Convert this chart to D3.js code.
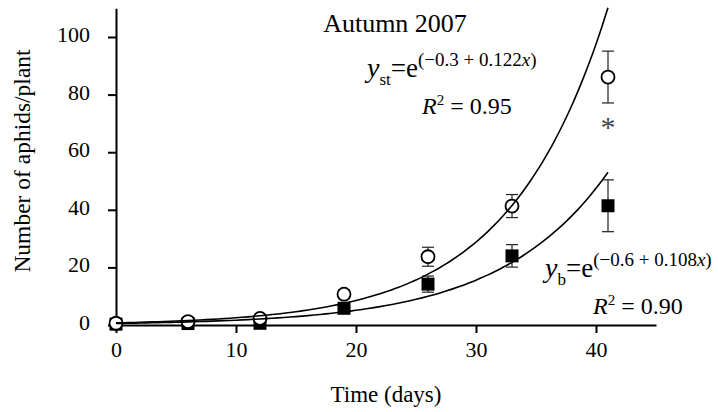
<!DOCTYPE html>
<html>
<head>
<meta charset="utf-8">
<script src="https://cdn.jsdelivr.net/npm/d3@7"></script>
<style>
  body { margin: 0; background: #fff; }
  svg { display: block; }
</style>
</head>
<body>
<svg id="chart" width="719" height="412"></svg>
<script>
// sampling days and means (aphids/plant)
const days = [0, 6, 12, 19, 26, 33, 41]
const stMean = [0.6, 1.2, 2.3, 10.7, 23.7, 41.3, 86.1]
const stErr = [0.2, 0.4, 0.6, 1.5, 3.3, 4.0, 9.0]
const bMean = [0.3, 0.5, 0.6, 5.8, 14.2, 24.0, 41.4]
const bErr = [0.1, 0.2, 0.3, 1.2, 2.8, 3.9, 9.0]

// exponential fits: [intercept, slope] as drawn
const fitSt = [-0.3, 0.122]
const fitB = [-0.6, 0.1115]

const xTicks = [0, 10, 20, 30, 40]
const yTicks = [0, 20, 40, 60, 80, 100]

const serif = '"Liberation Serif", "Times New Roman", Tinos, "DejaVu Serif", serif'

const svg = d3.select('#chart').attr('font-family', serif)

const x = d3.scaleLinear().domain([0, 45]).range([116, 656])
const y = d3.scaleLinear().domain([0, 110]).range([325, 8.2])

// axes
const yAxis = svg.append('g')
  .attr('transform', `translate(${x(0)},0)`)
  .call(d3.axisLeft(y).tickValues(yTicks).tickSize(8).tickSizeOuter(0).tickPadding(18))
yAxis.attr('font-family', serif).attr('font-size', 22)
yAxis.selectAll('text').attr('dy', '0.2em').attr('fill', '#000')

const xAxis = svg.append('g')
  .attr('transform', `translate(0,${y(0)})`)
  .call(d3.axisBottom(x).tickValues(xTicks).tickSize(8).tickSizeOuter(0).tickPadding(8))
xAxis.attr('font-family', serif).attr('font-size', 22)
xAxis.selectAll('text').attr('fill', '#000')

svg.selectAll('.domain, .tick line').attr('stroke', '#000').attr('stroke-width', 2)

svg.append('text')
  .attr('x', 386).attr('y', 402)
  .attr('text-anchor', 'middle')
  .attr('font-size', 23)
  .text('Time (days)')

svg.append('text')
  .attr('transform', 'translate(30,161) rotate(-90)')
  .attr('text-anchor', 'middle')
  .attr('font-size', 23.5)
  .text('Number of aphids/plant')

svg.append('text')
  .attr('x', 395).attr('y', 32)
  .attr('text-anchor', 'middle')
  .attr('font-size', 26)
  .text('Autumn 2007')

// error bars
const series = [
  { mean: stMean, err: stErr },
  { mean: bMean, err: bErr }
]
const bars = svg.append('g').attr('stroke', '#222').attr('stroke-width', 1.2)
for (const s of series) {
  days.forEach((d, i) => {
    const lo = y(s.mean[i] - s.err[i]), hi = y(s.mean[i] + s.err[i])
    bars.append('line').attr('x1', x(d)).attr('x2', x(d)).attr('y1', lo).attr('y2', hi)
    bars.append('line').attr('x1', x(d) - 6).attr('x2', x(d) + 6).attr('y1', lo).attr('y2', lo)
    bars.append('line').attr('x1', x(d) - 6).attr('x2', x(d) + 6).attr('y1', hi).attr('y2', hi)
  })
}

// markers
svg.append('g').selectAll('rect')
  .data(days)
  .join('rect')
  .attr('x', (d, i) => x(d) - 6.5)
  .attr('y', (d, i) => y(bMean[i]) - 6.5)
  .attr('width', 13).attr('height', 13)
  .attr('fill', '#000')

svg.append('g').selectAll('circle')
  .data(days)
  .join('circle')
  .attr('cx', d => x(d))
  .attr('cy', (d, i) => y(stMean[i]))
  .attr('r', 6.5)
  .attr('fill', '#fff')
  .attr('stroke', '#000')
  .attr('stroke-width', 1.8)

// fitted curves
const line = d3.line().x(d => x(d[0])).y(d => y(d[1])).curve(d3.curveMonotoneX)
for (const f of [fitSt, fitB]) {
  const pts = d3.range(0, 41.001, 0.5).map(t => [t, Math.exp(f[0] + f[1] * t)])
  svg.append('path')
    .attr('d', line(pts))
    .attr('fill', 'none')
    .attr('stroke', '#000')
    .attr('stroke-width', 1.6)
}

// significance mark
svg.append('text')
  .attr('x', x(41)).attr('y', 137)
  .attr('text-anchor', 'middle')
  .attr('font-size', 30)
  .attr('fill', '#444')
  .text('*')

// equations
function equation(x0, y0, sub, expo, r2x, r2y, r2) {
  const t = svg.append('text').attr('x', x0).attr('y', y0).attr('font-size', 27)
  t.append('tspan').attr('font-style', 'italic').attr('font-size', 28).text('y')
  t.append('tspan').attr('font-size', 17).attr('dy', 8).text(sub)
  t.append('tspan').attr('dy', -8).text('=e')
  t.append('tspan').attr('font-size', 19).attr('dy', -11).text(expo)
  t.append('tspan').attr('font-size', 19).attr('font-style', 'italic').text('x')
  t.append('tspan').attr('font-size', 19).text(')')

  const r = svg.append('text').attr('x', r2x).attr('y', r2y).attr('font-size', 24)
  r.append('tspan').attr('font-style', 'italic').text('R')
  r.append('tspan').attr('font-size', 15).attr('dy', -9).text('2')
  r.append('tspan').attr('dy', 9).text(' = ' + r2)
}
equation(367, 77, 'st', '(\u22120.3 + 0.122', 422, 114, '0.95')
equation(545, 277, 'b', '(\u22120.6 + 0.108', 593, 314, '0.90')
</script>
</body>
</html>
